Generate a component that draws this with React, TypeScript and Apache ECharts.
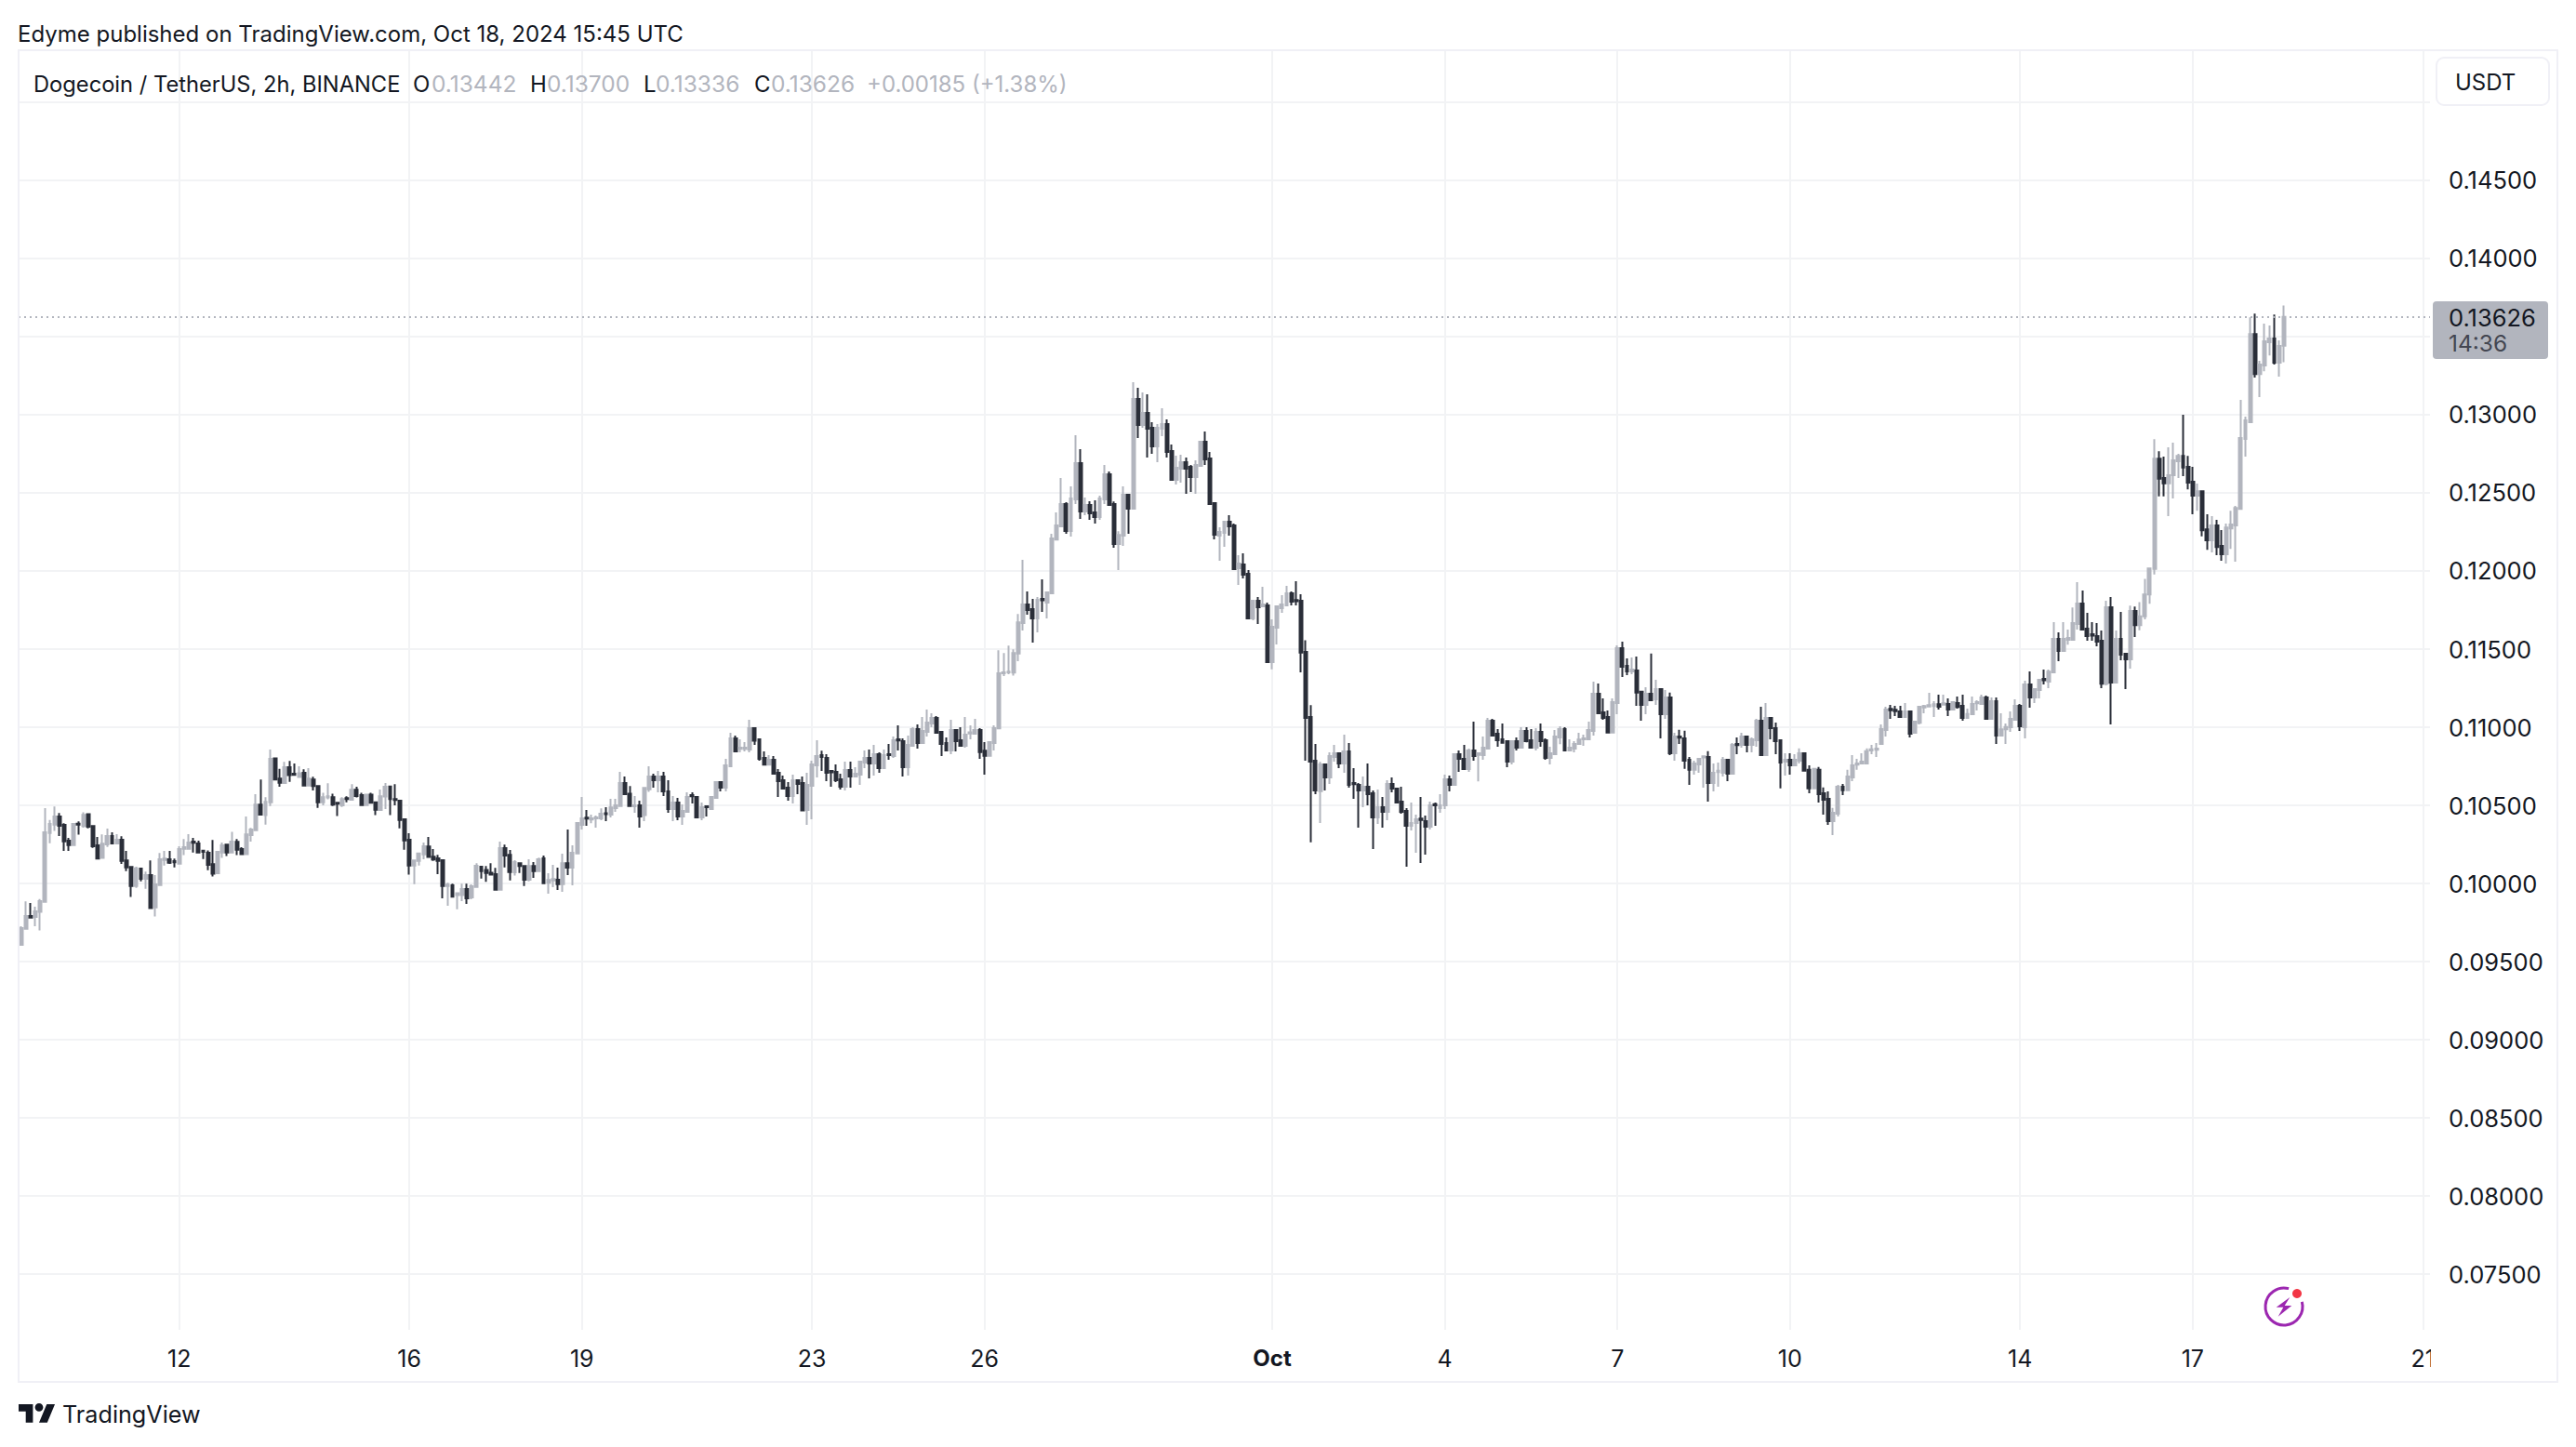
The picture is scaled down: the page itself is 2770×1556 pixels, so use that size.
import React, { useEffect, useRef } from "react";
import * as echarts from "echarts";

// Every row: open, close, high, low, in 1/100000 USDT. One row is a 2h candle.
const sep09to11 = [
[9607,9714,9726,9607],[9710,9792,9885,9710],[9792,9782,9875,9782],[9786,9822,9851,9726],[9818,9887,9901,9699],[9883,10327,10482,9883],[10323,10381,10407,10258],[10377,10429,10492,10337],[10429,10369,10451,10304],[10375,10270,10385,10208],
[10274,10246,10292,10208],[10246,10381,10381,10246],[10383,10377,10397,10312],[10367,10439,10456,10357],[10443,10363,10447,10353],[10367,10238,10367,10228],[10244,10159,10298,10155],[10163,10254,10314,10163],[10250,10304,10351,10234],[10304,10256,10327,10252],
[10256,10280,10316,10256],[10280,10145,10302,10125],[10147,10103,10208,10079],[10105,9984,10105,9913],[9984,10097,10107,9972],[10095,10030,10099,10014],[10030,10054,10076,9966],[10054,9843,10147,9839],[9847,9994,10054,9788],[9990,10155,10195,9990],
[10151,10159,10208,10115],[10155,10133,10208,10125],[10143,10135,10159,10103],
];
const sep12to15 = [
[10127,10220,10238,10127],[10222,10232,10284,10181],[10222,10262,10316,10222],[10268,10260,10292,10198],[10256,10198,10274,10198],[10210,10202,10214,10157],[10197,10119,10212,10085],[10123,10062,10278,10044],[10066,10202,10208,10060],[10198,10244,10262,10163],
[10248,10198,10248,10175],[10198,10268,10331,10198],[10266,10216,10284,10181],[10220,10187,10232,10187],[10187,10314,10429,10187],[10310,10345,10355,10268],[10341,10504,10571,10341],[10504,10441,10665,10437],[10437,10522,10552,10377],[10520,10798,10857,10496],
[10800,10665,10800,10661],[10671,10645,10734,10619],[10643,10744,10778,10643],[10744,10693,10784,10651],[10702,10695,10768,10695],[10681,10706,10750,10681],[10708,10627,10730,10627],[10627,10671,10738,10627],[10665,10623,10683,10595],[10623,10520,10623,10484],
[10520,10552,10581,10500],[10550,10558,10641,10538],[10552,10504,10575,10496],[10516,10510,10516,10431],[10500,10540,10552,10490],[10546,10540,10558,10520],[10536,10599,10635,10536],[10599,10560,10619,10550],[10565,10502,10581,10502],[10502,10569,10569,10502],
[10569,10516,10581,10516],[10520,10472,10524,10437],[10470,10558,10601,10470],[10556,10619,10643,10476],[10621,10540,10621,10437],[10540,10534,10635,10500],[10530,10407,10530,10353],[10411,10276,10411,10216],
];
const sep16to22 = [
[10280,10115,10321,10056],[10115,10147,10147,9996],[10145,10192,10198,10115],[10186,10238,10262,10155],[10236,10169,10298,10169],[10171,10153,10220,10145],[10161,10145,10183,10060],[10149,9984,10149,9905],[9984,9992,10004,9857],[9988,9915,9998,9911],
[9925,9937,9941,9835],[9925,9964,9998,9887],[9964,9905,9998,9869],[9911,9982,9994,9899],[9978,10113,10129,9978],[10107,10079,10111,10032],[10087,10067,10111,10010],[10069,10056,10129,10056],[10060,9960,10099,9960],[9960,10226,10268,9960],
[10226,10179,10248,10103],[10183,10073,10214,10020],[10071,10137,10149,10050],[10129,10111,10129,10067],[10111,10024,10111,9984],[10024,10111,10155,10014],[10111,10079,10137,10036],[10079,10155,10165,10079],[10161,10002,10179,10002],[10004,10022,10066,9935],
[10020,10028,10119,9976],[10024,9996,10101,9958],[9996,10129,10190,9947],[10129,10101,10345,10054],[10101,10196,10244,9988],[10192,10387,10387,10192],[10375,10417,10554,10345],[10421,10415,10470,10369],[10409,10417,10441,10385],[10417,10423,10435,10357],
[10417,10446,10480,10405],[10450,10444,10488,10399],[10440,10486,10542,10423],[10482,10500,10542,10458],[10496,10643,10714,10496],[10643,10571,10685,10571],[10575,10496,10623,10496],[10494,10500,10560,10452],[10500,10429,10530,10357],[10437,10611,10615,10399],
[10603,10685,10750,10587],[10685,10661,10702,10613],[10661,10685,10720,10583],[10685,10589,10714,10560],[10589,10476,10661,10452],[10476,10518,10560,10399],[10518,10429,10548,10405],[10429,10464,10506,10375],[10458,10554,10583,10458],[10566,10558,10583,10512],
[10554,10423,10558,10423],[10423,10488,10518,10405],[10494,10488,10500,10429],[10476,10554,10560,10476],[10548,10649,10655,10548],[10649,10613,10655,10589],[10613,10756,10798,10589],[10750,10929,10964,10750],[10929,10845,10946,10845],[10861,10869,10923,10839],
[10861,10869,10905,10845],[10857,10994,11048,10839],[10994,10913,11000,10887],[10923,10798,10923,10786],[10803,10760,10845,10760],[10760,10792,10821,10760],[10792,10702,10815,10702],[10708,10655,10732,10554],[10661,10607,10690,10607],[10613,10560,10649,10530],
[10560,10661,10696,10512],[10661,10637,10667,10571],[10643,10468,10685,10468],[10470,10631,10708,10375],
];
const sep23to30 = [
[10625,10762,10786,10411],[10756,10815,10917,10679],[10821,10809,10849,10720],[10803,10708,10827,10655],[10720,10712,10720,10619],[10714,10661,10762,10649],[10667,10619,10702,10601],[10619,10726,10780,10595],[10726,10685,10780,10613],[10685,10702,10744,10685],
[10696,10780,10786,10631],[10774,10804,10851,10738],[10804,10768,10857,10673],[10768,10827,10887,10690],[10827,10738,10839,10708],[10738,10821,10857,10738],[10827,10821,10893,10792],[10815,10917,10940,10804],[10923,10915,11012,10851],[10911,10744,10929,10685],
[10744,10887,10946,10690],[10881,10988,11000,10881],[10988,10899,11018,10863],[10899,10976,11065,10899],[10970,11030,11113,10940],[11024,11059,11089,11000],[11059,10964,11071,10958],[10970,10893,10970,10815],[10899,10851,10934,10851],[10851,10982,11048,10827],
[10982,10911,10982,10845],[10917,10881,11000,10881],[10881,10952,11065,10869],[10960,10968,11012,10923],[10958,10982,11054,10958],[10982,10841,10994,10798],[10849,10817,10905,10696],[10817,10905,10905,10817],[10899,10994,11012,10851],[10992,11345,11492,10992],
[11345,11351,11474,11327],[11351,11355,11522,11340],[11350,11474,11498,11330],[11472,11671,11725,11423],[11667,11786,12072,11619],[11786,11750,11869,11720],[11756,11697,11822,11542],[11697,11816,11834,11607],[11822,11812,11947,11738],[11798,11863,11869,11697],
[11857,12209,12238,11857],[12201,12292,12375,12201],[12286,12429,12595,12286],[12429,12256,12441,12238],[12256,12465,12542,12220],[12459,12691,12869,12429],[12691,12381,12780,12334],[12381,12423,12470,12357],[12423,12369,12447,12328],[12375,12345,12453,12304],
[12345,12465,12482,12328],[12459,12619,12679,12429],[12619,12423,12637,12417],[12429,12173,12445,12149],[12173,12230,12254,12006],[12226,12488,12542,12161],[12488,12399,12488,12238],[12399,13101,13209,12399],[13101,12935,13173,12851],[12935,13012,13143,12917],
[13012,12911,13131,12726],[12917,12798,12952,12750],[12798,12917,12941,12697],[12911,12941,13042,12863],[12941,12762,12970,12726],[12768,12584,12810,12584],[12584,12661,12738,12554],[12655,12697,12744,12566],[12697,12655,12726,12494],[12667,12601,12679,12506],
[12601,12679,12709,12494],[12673,12828,12828,12673],[12828,12715,12893,12679],[12720,12429,12762,12429],[12435,12232,12435,12203],[12226,12250,12280,12066],[12244,12316,12316,12155],[12316,12286,12357,12226],[12292,12012,12304,12012],[12018,12048,12101,11911],
[12042,11976,12113,11953],[11982,11697,12006,11691],[11697,11810,11810,11685],[11810,11768,11834,11661],[11774,11786,11899,11774],[11780,11417,11798,11417],
];
const oct01to06 = [
[11417,11643,11691,11370],[11637,11774,11774,11530],[11762,11786,11845,11732],[11780,11857,11905,11780],[11857,11804,11869,11780],[11814,11806,11935,11780],[11810,11477,11851,11351],[11482,11059,11557,10785],[11065,10780,11141,10264],[10785,10595,10893,10571],
[10591,10762,10778,10387],[10762,10678,10768,10595],[10678,10815,10839,10637],[10809,10833,10887,10780],[10833,10768,10839,10738],[10768,10845,10952,10708],[10845,10631,10899,10613],[10643,10635,10738,10542],[10631,10595,10643,10357],[10595,10619,10684,10488],
[10619,10571,10768,10500],[10577,10422,10595,10220],[10422,10488,10601,10381],[10488,10458,10553,10357],[10458,10637,10661,10405],[10637,10607,10678,10583],[10607,10518,10613,10512],[10524,10458,10619,10446],[10464,10369,10482,10107],[10369,10387,10518,10339],
[10387,10411,10440,10196],[10415,10407,10553,10131],[10399,10363,10434,10184],[10363,10500,10524,10345],[10508,10500,10518,10369],[10482,10500,10571,10452],[10500,10666,10696,10476],[10666,10631,10690,10589],[10631,10827,10833,10631],[10827,10797,10851,10714],
[10797,10732,10887,10732],[10732,10851,10863,10714],[10851,10815,11035,10785],[10823,10833,10833,10654],[10821,10869,10940,10791],[10863,11041,11059,10863],[11041,10946,11053,10946],[10958,10916,10988,10875],[10922,10900,11024,10900],[10910,10780,10916,10744],
[10780,10910,10916,10762],[10910,10869,10934,10851],[10869,10976,11000,10869],[10976,10910,11000,10904],[10916,10869,10988,10863],[10869,10970,10994,10851],[10970,10910,11024,10875],[10916,10803,10928,10791],[10803,10833,10875,10762],[10827,10940,10982,10827],
[10934,10988,11006,10892],[10988,10851,11000,10851],[10851,10869,10922,10845],[10863,10893,10910,10839],[10893,10921,10964,10887],[10922,10928,10952,10881],[10922,10982,11035,10922],[10976,11214,11291,10946],[11214,11089,11280,11083],[11095,11059,11184,11047],
[11065,10966,11107,10966],[10966,11160,11184,10966],
];
const oct07to13 = [
[11155,11506,11524,11084],[11506,11387,11548,11322],[11393,11357,11441,11334],[11357,11369,11447,11340],[11363,11221,11453,11137],[11227,11143,11227,11042],[11143,11215,11256,11084],[11215,11173,11471,11173],[11179,11244,11304,11143],[11244,11084,11250,10929],
[11084,11191,11238,11054],[11191,10834,11221,10822],[10834,10941,10965,10786],[10941,10933,10983,10893],[10929,10786,10977,10733],[10792,10727,10810,10631],[10727,10768,10786,10697],[10762,10798,10804,10709],[10806,10814,10814,10613],[10810,10643,10846,10524],
[10643,10709,10768,10590],[10713,10721,10774,10619],[10709,10792,10810,10685],[10792,10703,10792,10655],[10703,10887,10899,10703],[10893,10885,10935,10828],[10887,10941,10965,10869],[10941,10887,10947,10840],[10887,10923,10935,10840],[10917,11042,11054,10875],
[11042,10822,11131,10822],[10822,11060,11155,10816],[11060,10994,11060,10923],[10994,10911,11030,10828],[10917,10774,10917,10608],[10780,10792,10834,10691],[10792,10756,10834,10697],[10756,10792,10828,10756],[10786,10834,10864,10768],[10834,10721,10840,10721],
[10727,10608,10756,10578],[10608,10733,10739,10608],[10727,10572,10745,10518],[10578,10536,10614,10441],[10542,10399,10590,10375],[10399,10453,10483,10310],[10447,10619,10631,10429],[10619,10596,10637,10566],[10596,10685,10727,10596],[10679,10756,10822,10655],
[10760,10768,10798,10727],[10768,10780,10834,10768],[10768,10846,10864,10768],[10851,10859,10887,10828],[10855,10863,10899,10810],[10893,10988,11018,10893],[10982,11113,11131,10940],[11117,11109,11143,11053],[11111,11103,11137,11071],
[11101,11065,11137,11059],[11065,11101,11155,11065],[11101,10958,11101,10934],[10964,11035,11041,10964],[11029,11131,11137,11018],[11127,11135,11143,11089],[11133,11141,11220,11133],[11135,11147,11166,11065],[11147,11131,11208,11113],[11145,11153,11208,11145],
[11149,11113,11184,11071],[11113,11160,11160,11113],[11155,11129,11196,11119],[11137,11059,11208,11041],[11059,11085,11119,11059],[11083,11149,11196,11083],[11153,11161,11172,11107],[11149,11190,11208,11149],[11190,11053,11202,11053],[11053,11166,11190,11053],
[11166,10946,11190,10893],[10946,10986,11089,10946],[10986,11002,11024,10893],[11000,11053,11101,10970],[11047,11137,11178,11047],
];
const oct14to18 = [
[11137,11006,11149,10976],[11000,11274,11297,10928],[11274,11190,11357,11125],[11190,11244,11250,11155],[11238,11303,11309,11184],[11309,11301,11369,11274],[11291,11355,11369,11250],[11351,11565,11672,11351],[11565,11488,11607,11422],
[11488,11565,11672,11488],[11559,11571,11625,11529],[11559,11666,11767,11559],[11660,11791,11928,11625],[11791,11625,11875,11619],[11631,11583,11732,11553],[11595,11587,11672,11553],[11583,11547,11666,11518],[11553,11279,11619,11250],[11279,11768,11809,11268],
[11768,11285,11833,11018],[11285,11565,11619,11285],[11565,11464,11738,11428],[11470,11434,11476,11244],[11434,11744,11779,11375],[11744,11654,11773,11577],[11654,11710,11800,11620],[11710,11850,11950,11690],[11850,12017,12023,11790],[12014,12718,12843,11978],
[12718,12591,12766,12478],[12595,12561,12732,12478],[12561,12613,12791,12351],[12613,12708,12821,12464],[12702,12736,12750,12595],[12736,12662,13000,12607],[12666,12565,12736,12523],[12571,12482,12666,12363],[12482,12511,12559,12386],[12511,12261,12517,12222],
[12267,12196,12363,12136],[12196,12291,12351,12119],[12291,12154,12327,12101],[12160,12107,12262,12065],[12107,12279,12303,12047],[12273,12297,12386,12142],[12291,12404,12416,12059],[12398,12851,13095,12398],[12845,12964,12988,12732],[12952,13517,13624,12952],
[13517,13261,13648,13238],[13261,13321,13345,13113],[13315,13470,13583,13279],[13464,13488,13571,13380],[13488,13333,13642,13321],[13333,13440,13476,13244],[13442,13626,13700,13336],
];

const priceTicks = [0.075, 0.08, 0.085, 0.09, 0.095, 0.1, 0.105, 0.11, 0.115, 0.12, 0.125, 0.13, 0.14, 0.145];
const gridPrices = [0.075, 0.08, 0.085, 0.09, 0.095, 0.1, 0.105, 0.11, 0.115, 0.12, 0.125, 0.13, 0.135, 0.14, 0.145, 0.15];
const dayLabels: [number, string][] = [
  [33, "12"], [81, "16"], [117, "19"], [165, "23"], [201, "26"], [261, "Oct"],
  [297, "4"], [333, "7"], [369, "10"], [417, "14"], [453, "17"], [501, "21"],
];
const legendName = "Dogecoin / TetherUS, 2h, BINANCE";
const legendOHLC = [["O", "0.13442"], ["H", "0.13700"], ["L", "0.13336"], ["C", "0.13626"]];
const legendChange = "+0.00185 (+1.38%)";
const lastPrice = 0.13626;
const countdown = "14:36";
const SLOTS = 503;

const UP = "#B2B5BE";
const DOWN = "#2A2E39";
const INK = "#131722";
const GRID = "#F2F3F5";
const EDGE = "#F0F0F6";
const FONT = "Inter, sans-serif";

echarts.graphic.registerShape(
  "tvLogo",
  echarts.graphic.extendPath("M14 22H7V11H0V4h14v18zM28 22h-8l7.5-18h8L28 22zM24 7a4 4 0 1 1-8 0 4 4 0 0 1 8 0z", {})
);

const toCandle = (r: number[]) => [r[0] / 1e5, r[1] / 1e5, r[3] / 1e5, r[2] / 1e5];

function txt(text: string, x: number, y: number, size: number, fill: string, z = 20) {
  return { type: "text", x, y, z, silent: true, style: { text, fill, font: `${size}px ${FONT}`, verticalAlign: "middle", align: "left" } };
}

export default function App() {
  const ref = useRef<HTMLDivElement>(null);
  useEffect(() => {
    document.body.style.margin = "0";
    document.body.style.background = "#fff";
    const chart = echarts.init(ref.current!, undefined, { renderer: "svg" });
    const rows = [...sep09to11, ...sep12to15, ...sep16to22, ...sep23to30, ...oct01to06, ...oct07to13, ...oct14to18];
    const labelAt = new Map(dayLabels);
    const categories = Array.from({ length: SLOTS }, (_, i) => labelAt.get(i) ?? "");
    const legendX = [[444, 464], [570, 588], [692, 705], [811, 829]];
    chart.setOption({
      animation: false,
      backgroundColor: "#ffffff",
      grid: { left: 20, top: 54, width: 2593, height: 1376, containLabel: false },
      xAxis: {
        type: "category",
        data: categories,
        axisLine: { show: false },
        axisTick: { show: false },
        splitLine: { show: true, alignWithLabel: true, interval: (i: number) => labelAt.has(i), lineStyle: { color: GRID, width: 2 } },
        axisLabel: {
          interval: (i: number) => labelAt.has(i),
          margin: 18,
          fontFamily: FONT,
          fontSize: 25,
          color: INK,
          hideOverlap: false,
          formatter: (v: string) => (v === "Oct" ? "{b|Oct}" : v),
          rich: { b: { fontWeight: 700, fontSize: 24, fontFamily: FONT, color: INK } },
        },
      },
      yAxis: {
        type: "value",
        position: "right",
        min: 0.071429,
        max: 0.153333,
        axisLine: { show: false },
        axisTick: { show: false, customValues: gridPrices },
        splitLine: { show: true, lineStyle: { color: GRID, width: 2 } },
        axisLabel: {
          customValues: priceTicks,
          margin: 20,
          fontFamily: FONT,
          fontSize: 25.5,
          color: INK,
          formatter: (v: number) => v.toFixed(5),
        },
      },
      series: [
        {
          type: "candlestick",
          barWidth: 3.4,
          data: rows.map(toCandle),
          itemStyle: { color: UP, color0: DOWN, borderColor: UP, borderColor0: DOWN, borderWidth: 2 },
          markLine: {
            silent: true,
            symbol: "none",
            precision: 5,
            label: { show: false },
            lineStyle: { color: UP, type: [2, 4], width: 2 },
            data: [{ yAxis: lastPrice }],
          },
        },
      ],
      graphic: [
        { type: "rect", z: 10, silent: true, shape: { x: 2614, y: 1436, width: 60, height: 46 }, style: { fill: "#fff" } },
        { type: "rect", z: 11, silent: true, shape: { x: 20, y: 54, width: 2730, height: 1432 }, style: { fill: "none", stroke: EDGE, lineWidth: 2 } },
        txt("Edyme published on TradingView.com, Oct 18, 2024 15:45 UTC", 19, 36, 24, INK),
        txt(legendName, 36, 90, 23.7, INK),
        ...legendOHLC.flatMap(([k, v], i) => [txt(k, legendX[i][0], 90, 24, INK), txt(v, legendX[i][1], 90, 24.5, UP)]),
        txt(legendChange, 932, 90, 24, UP),
        { type: "rect", z: 20, silent: true, shape: { x: 2620, y: 62, width: 121, height: 51, r: 8 }, style: { fill: "#fff", stroke: EDGE, lineWidth: 2 } },
        txt("USDT", 2640, 88, 24, INK, 21),
        { type: "rect", z: 20, silent: true, shape: { x: 2616, y: 324, width: 124, height: 62, r: 4 }, style: { fill: UP } },
        txt(lastPrice.toFixed(5), 2633, 341, 25.5, INK, 21),
        txt(countdown, 2633, 369, 24.5, "#434651", 21),
        { type: "arc", z: 20, silent: true, shape: { cx: 2456, cy: 1405, r: 20, startAngle: -0.26, endAngle: 4.97, clockwise: true }, style: { fill: "none", stroke: "#9C27B0", lineWidth: 3 } },
        { type: "circle", z: 20, silent: true, shape: { cx: 2470, cy: 1391, r: 5 }, style: { fill: "#F23645" } },
        { type: "polygon", z: 20, silent: true, shape: { points: [[2462.3, 1395], [2447.7, 1405.7], [2455.3, 1405.7], [2449.7, 1415.7], [2464.3, 1404], [2456.7, 1404]] }, style: { fill: "#9C27B0" } },
        { type: "tvLogo", z: 20, silent: true, x: 20, y: 1505.6, scaleX: 1.1, scaleY: 1.1, style: { fill: INK } },
        txt("TradingView", 67, 1521, 25.2, INK),
      ],
    });
    return () => chart.dispose();
  }, []);
  return <div ref={ref} style={{ width: 2770, height: 1556, overflow: "hidden" }} />;
}
